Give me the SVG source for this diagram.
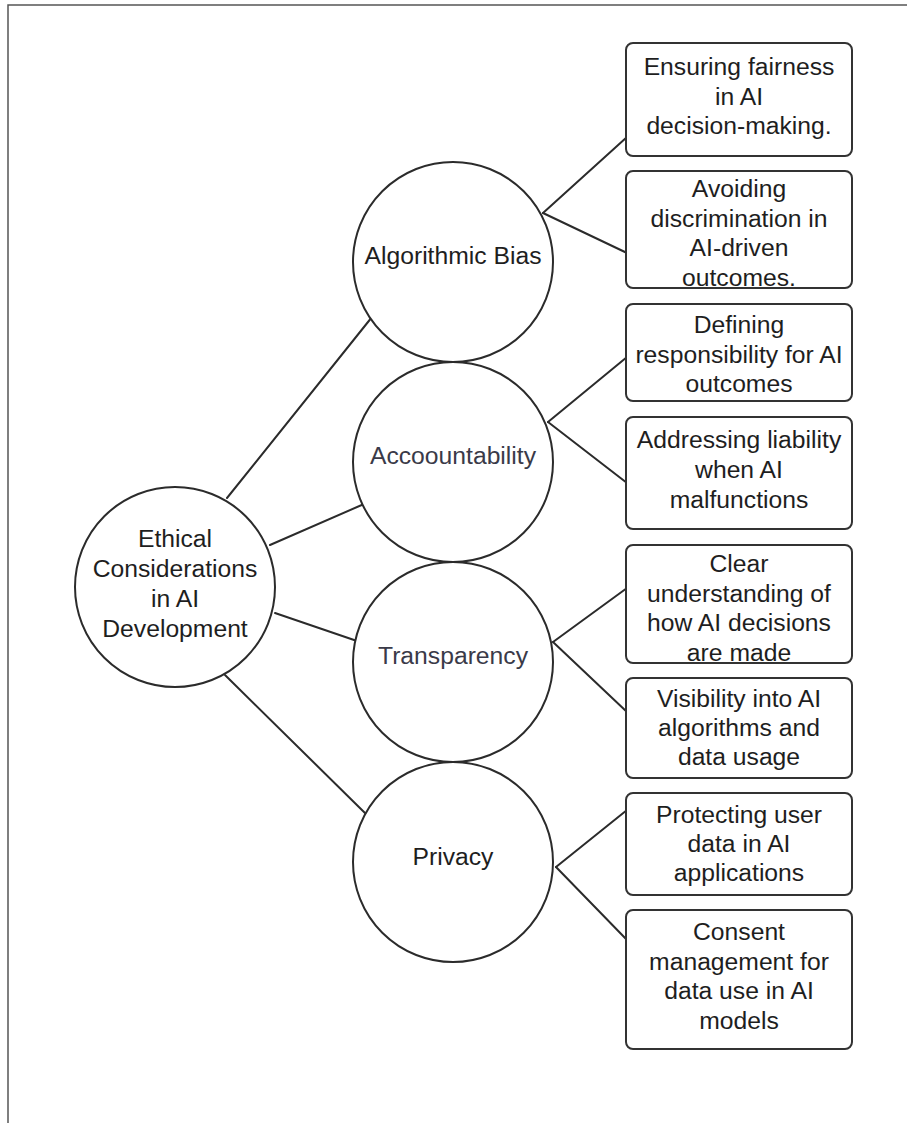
<svg xmlns="http://www.w3.org/2000/svg" width="907" height="1123" viewBox="0 0 907 1123">
  <style>
    .frame { fill: none; stroke: #555; stroke-width: 1.5; }
    .edge { stroke: #2b2b2b; stroke-width: 2; fill: none; stroke-linecap: round; }
    .circle { fill: #fff; stroke: #2b2b2b; stroke-width: 2; }
    .box { fill: #fff; stroke: #333; stroke-width: 2; }
    text { font-family: "Liberation Sans", Arial, sans-serif; font-size: 24.7px; fill: #1e1e1e; text-anchor: middle; }
    .muted { fill: #3a3a48; }
  </style>

  <!-- page frame -->
  <path class="frame" d="M8,1123 V5 H907"/>

  <!-- connectors -->
  <g id="connectors">
    <line class="edge" x1="227" y1="498" x2="372" y2="317"/>
    <line class="edge" x1="270" y1="545" x2="364" y2="504"/>
    <line class="edge" x1="275" y1="613" x2="357" y2="641"/>
    <line class="edge" x1="225" y1="675" x2="366" y2="814"/>

    <line class="edge" x1="543" y1="213" x2="627" y2="137"/>
    <line class="edge" x1="543" y1="213" x2="627" y2="253"/>
    <line class="edge" x1="548" y1="422" x2="627" y2="357"/>
    <line class="edge" x1="548" y1="422" x2="627" y2="483"/>
    <line class="edge" x1="553" y1="642" x2="627" y2="588"/>
    <line class="edge" x1="553" y1="642" x2="627" y2="712"/>
    <line class="edge" x1="556" y1="867" x2="627" y2="810"/>
    <line class="edge" x1="556" y1="867" x2="627" y2="940"/>
  </g>

  <!-- root topic -->
  <g id="root">
    <circle class="circle" cx="175" cy="587" r="100"/>
    <text x="175" y="547">Ethical</text>
    <text x="175" y="577">Considerations</text>
    <text x="175" y="607">in AI</text>
    <text x="175" y="637">Development</text>
  </g>

  <!-- sub-topics -->
  <g id="algorithmic-bias">
    <circle class="circle" cx="453" cy="262" r="100"/>
    <text x="453" y="264">Algorithmic Bias</text>
  </g>
  <g id="accountability">
    <circle class="circle" cx="453" cy="462" r="100"/>
    <text class="muted" x="453" y="464">Accoountability</text>
  </g>
  <g id="transparency">
    <circle class="circle" cx="453" cy="662" r="100"/>
    <text class="muted" x="453" y="664">Transparency</text>
  </g>
  <g id="privacy">
    <circle class="circle" cx="453" cy="862" r="100"/>
    <text x="453" y="865">Privacy</text>
  </g>

  <!-- detail boxes -->
  <g id="fairness">
    <rect class="box" x="626" y="43" width="226" height="113" rx="7"/>
    <text x="739" y="75">Ensuring fairness</text>
    <text x="739" y="104.5">in AI</text>
    <text x="739" y="134">decision-making.</text>
  </g>
  <g id="discrimination">
    <rect class="box" x="626" y="171" width="226" height="117" rx="7"/>
    <text x="739" y="197">Avoiding</text>
    <text x="739" y="226.5">discrimination in</text>
    <text x="739" y="256">AI-driven</text>
    <text x="739" y="285.5">outcomes.</text>
  </g>
  <g id="responsibility">
    <rect class="box" x="626" y="304" width="226" height="97" rx="7"/>
    <text x="739" y="333">Defining</text>
    <text x="739" y="362.5">responsibility for AI</text>
    <text x="739" y="392">outcomes</text>
  </g>
  <g id="liability">
    <rect class="box" x="626" y="417" width="226" height="112" rx="7"/>
    <text x="739" y="448">Addressing liability</text>
    <text x="739" y="478">when AI</text>
    <text x="739" y="508">malfunctions</text>
  </g>
  <g id="understanding">
    <rect class="box" x="626" y="545" width="226" height="118" rx="7"/>
    <text x="739" y="572">Clear</text>
    <text x="739" y="601.5">understanding of</text>
    <text x="739" y="631">how AI decisions</text>
    <text x="739" y="660.5">are made</text>
  </g>
  <g id="visibility">
    <rect class="box" x="626" y="678" width="226" height="100" rx="7"/>
    <text x="739" y="707">Visibility into AI</text>
    <text x="739" y="736">algorithms and</text>
    <text x="739" y="765">data usage</text>
  </g>
  <g id="user-data">
    <rect class="box" x="626" y="793" width="226" height="102" rx="7"/>
    <text x="739" y="823">Protecting user</text>
    <text x="739" y="852">data in AI</text>
    <text x="739" y="881">applications</text>
  </g>
  <g id="consent">
    <rect class="box" x="626" y="910" width="226" height="139" rx="7"/>
    <text x="739" y="940">Consent</text>
    <text x="739" y="969.5">management for</text>
    <text x="739" y="999">data use in AI</text>
    <text x="739" y="1028.5">models</text>
  </g>
</svg>
